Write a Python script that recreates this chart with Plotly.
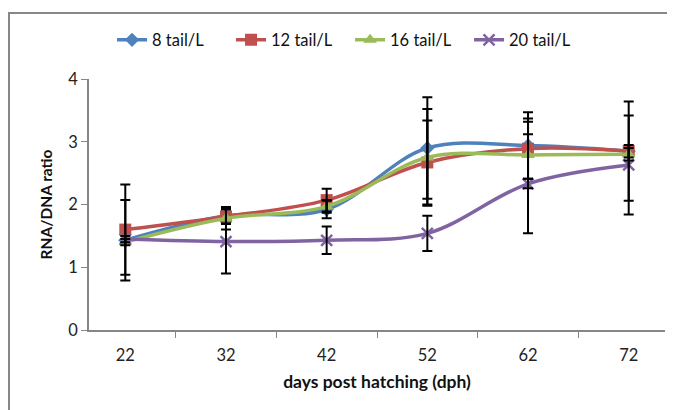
import plotly.graph_objects as go

days = ["22", "32", "42", "52", "62", "72"]
series_names = ["8 tail/L", "12 tail/L", "16 tail/L", "20 tail/L"]
v8 = [1.43, 1.82, 1.92, 2.90, 2.94, 2.85]
v12 = [1.60, 1.81, 2.07, 2.67, 2.89, 2.85]
v16 = [1.40, 1.78, 1.97, 2.75, 2.79, 2.80]
v20 = [1.45, 1.41, 1.43, 1.54, 2.33, 2.63]
e8 = [0.64, 0.12, 0.14, 0.81, 0.53, 0.79]
e12 = [0.72, 0.12, 0.18, 0.67, 0.48, 0.10]
e16 = [0.05, 0.18, 0.10, 0.77, 0.53, 0.10]
e20 = [0.05, 0.51, 0.22, 0.28, 0.79, 0.79]
y_ticks = [0, 1, 2, 3, 4]

colors = ["#4F81BD", "#C0504D", "#9BBB59", "#8064A2"]
markers = [
    dict(symbol="diamond", size=11),
    dict(symbol="square", size=12),
    dict(symbol="triangle-up", size=12),
    dict(symbol="x-thin", size=11, line=dict(width=2)),
]
values = [v8, v12, v16, v20]
errors = [e8, e12, e16, e20]

fig = go.Figure()
for name, vals, col, mk in zip(series_names, values, colors, markers):
    m = dict(mk)
    m["color"] = col
    if "line" in m:
        m["line"] = dict(width=2.5, color=col)
    fig.add_trace(go.Scatter(
        x=days, y=vals, name=name, mode="lines+markers",
        line=dict(color=col, width=3.5, shape="spline", smoothing=1),
        marker=m,
    ))
for vals, errs in zip(values, errors):
    fig.add_trace(go.Scatter(
        x=days, y=vals, mode="markers", showlegend=False, hoverinfo="skip",
        marker=dict(opacity=0, size=1),
        error_y=dict(type="data", array=errs, visible=True,
                     color="black", thickness=2, width=5),
    ))

axis_col = "#868686"
# the page body has an 8px default margin, so the figure is 8px smaller
fig.update_layout(
    width=667, height=402,
    margin=dict(l=81, r=10, t=71, b=80),
    paper_bgcolor="white", plot_bgcolor="white",
    font=dict(family="Lato, Noto Sans, sans-serif", size=16, color="#222222"),
    showlegend=True,
    legend=dict(orientation="h", x=0.04, xanchor="left", y=1.155, yanchor="middle",
                font=dict(size=16.5, color="#111111"), itemwidth=30,
                entrywidth=74, bgcolor="rgba(0,0,0,0)"),
    xaxis=dict(
        type="category", categoryarray=days, tickson="boundaries",
        ticks="outside", ticklen=6, tickcolor=axis_col, showline=True,
        linecolor=axis_col, linewidth=1.5, showgrid=False, zeroline=False,
        tickfont=dict(size=16.5, color="#222222"), ticklabelstandoff=9,
        title=dict(text="<b>days post hatching (dph)</b>", font=dict(size=17.5, color="#111111"),
                   standoff=12),
    ),
    yaxis=dict(
        range=[0, 4], tickvals=y_ticks, ticks="outside", ticklen=6,
        tickcolor=axis_col, showline=True, linecolor=axis_col, linewidth=1.5,
        showgrid=False, zeroline=False, tickfont=dict(size=16.5, color="#222222"),
        title=dict(text="<b>RNA/DNA ratio</b>", font=dict(size=15.5, color="#111111"),
                   standoff=12),
    ),
    shapes=[dict(type="rect", xref="paper", yref="paper",
                 x0=-0.1389, x1=1.2, y0=-0.6, y1=1.263,
                 line=dict(color="#878787", width=2), fillcolor="rgba(0,0,0,0)",
                 layer="below")],
)
fig.write_html("out.html")
